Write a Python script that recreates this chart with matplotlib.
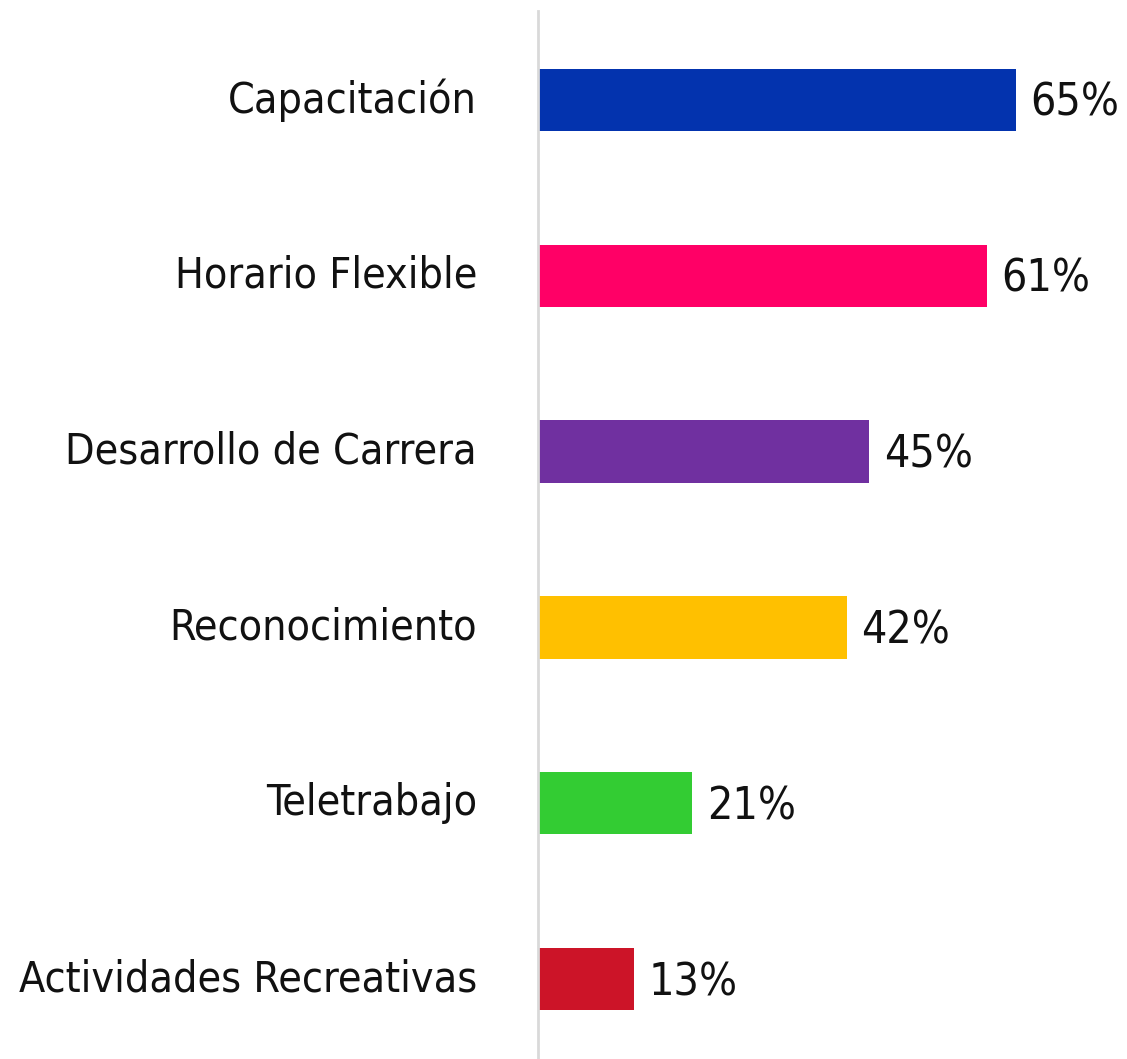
import matplotlib
matplotlib.use("Agg")
import matplotlib.pyplot as plt
from matplotlib import font_manager
from matplotlib import transforms

categories = ["Capacitación", "Horario Flexible", "Desarrollo de Carrera",
              "Reconocimiento", "Teletrabajo", "Actividades Recreativas"]
values = [65, 61, 45, 42, 21, 13]
colors = ["#0333AE", "#FF0066", "#7030A0", "#FFC000", "#33CC33", "#CC1428"]

names = {f.name for f in font_manager.fontManager.ttflist}
if "Liberation Sans Narrow" in names:
    font = "Liberation Sans Narrow"
    stretch = "normal"
else:
    font = "DejaVu Sans"
    stretch = "condensed"
plt.rcParams["font.family"] = [font, "DejaVu Sans"]

fig = plt.figure(figsize=(11.27, 10.59), dpi=100)
ax = fig.add_axes([538 / 1127, 0, 1 - 538 / 1127, 1 - 11 / 1059])

y = list(range(len(categories)))
ax.barh(y, values, height=0.355, color=colors)
ax.set_xlim(0, 80.1)
ax.set_ylim(5.455, -0.506)

for yi, v in zip(y, values):
    ax.text(v + 2.0, yi + 0.02, f"{v}%", va="center", ha="left",
            fontsize=32, color="#111111", fontstretch=stretch)

ax.set_yticks(y)
ax.set_yticklabels(categories, fontsize=30.8, color="#111111",
                   fontstretch=stretch, va="center")
# nudge tick labels a touch lower
shift = transforms.ScaledTranslation(0, -3 / 100, fig.dpi_scale_trans)
for lbl in ax.get_yticklabels():
    lbl.set_transform(lbl.get_transform() + shift)
ax.tick_params(axis="y", length=0, pad=44)
ax.set_xticks([])

for s in ["top", "right", "bottom"]:
    ax.spines[s].set_visible(False)
ax.spines["left"].set_color("#d9d9d9")
ax.spines["left"].set_linewidth(2)

fig.savefig("out.png", dpi=100)
